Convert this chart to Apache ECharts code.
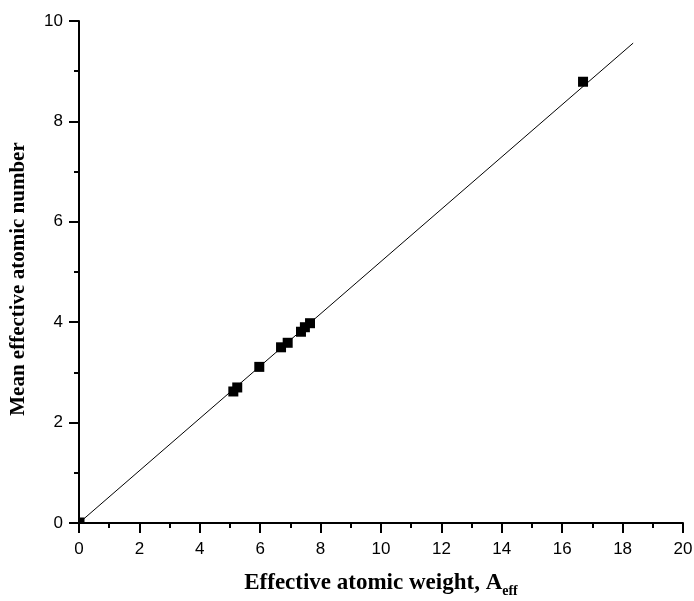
<!DOCTYPE html>
<html>
<head>
<meta charset="utf-8">
<script src="https://cdn.jsdelivr.net/npm/echarts@6/dist/echarts.min.js"></script>
<style>
html,body{margin:0;padding:0;background:#fff;}
#chart{width:694px;height:601px;}
</style>
</head>
<body>
<div id="chart"></div>
<script>
// Data
const effWeight = [0, 5.11, 5.24, 5.97, 6.69, 6.91, 7.35, 7.48, 7.65, 16.69];
const meanZ     = [0, 2.62, 2.70, 3.11, 3.50, 3.59, 3.81, 3.90, 3.98, 8.79];
const fitX = [0, 18.35];
const fitY = [0, 9.56];
const xTitle = 'Effective atomic weight, A';
const xTitleSub = 'eff';
const yTitle = 'Mean effective atomic number';

const chart = echarts.init(document.getElementById('chart'));
function axisBase(margin) {
  return {
    axisLine: {show: true, onZero: false, lineStyle: {color: '#000', width: 2}},
    axisTick: {show: true, inside: false, length: 10, lineStyle: {color: '#000', width: 2}},
    minorTick: {show: true, splitNumber: 2, length: 5, lineStyle: {color: '#000', width: 2}},
    splitLine: {show: false},
    axisLabel: {color: '#000', fontFamily: 'Liberation Sans', fontSize: 17, margin: margin}
  };
}
chart.setOption({
  animation: false,
  backgroundColor: '#fff',
  grid: {left: 79, right: 11, top: 21, bottom: 78, containLabel: false, outerBoundsMode: 'none'},
  xAxis: Object.assign(axisBase(18), {
    type: 'value', min: 0, max: 20, interval: 2,
    name: '{a|' + xTitle + '}{s|' + xTitleSub + '}',
    nameLocation: 'middle', nameGap: 45,
    nameTextStyle: {
      rich: {
        a: {fontFamily: 'Liberation Serif', fontWeight: 'bold', fontSize: 23, color: '#000'},
        s: {fontFamily: 'Liberation Serif', fontWeight: 'bold', fontSize: 14, color: '#000', padding: [16, 0, 0, 0]}
      }
    }
  }),
  yAxis: Object.assign(axisBase(16), {
    type: 'value', min: 0, max: 10, interval: 2,
    name: yTitle, nameLocation: 'middle', nameGap: 50,
    nameTextStyle: {fontFamily: 'Liberation Serif', fontWeight: 'bold', fontSize: 21, color: '#000', padding: [0, 14, 0, 0]}
  }),
  series: [
    {
      type: 'line',
      data: fitX.map((x, i) => [x, fitY[i]]),
      showSymbol: false, symbol: 'none',
      lineStyle: {color: '#000', width: 1},
      silent: true, z: 1
    },
    {
      type: 'scatter',
      data: effWeight.map((x, i) => (x === 0 && meanZ[i] === 0)
        ? {value: [x, meanZ[i]], symbolSize: 5, symbolOffset: [3, -3]}
        : [x, meanZ[i]]),
      symbol: 'rect', symbolSize: 10,
      itemStyle: {color: '#000', opacity: 1},
      clip: false, z: 2
    }
  ]
});
</script>
</body>
</html>
